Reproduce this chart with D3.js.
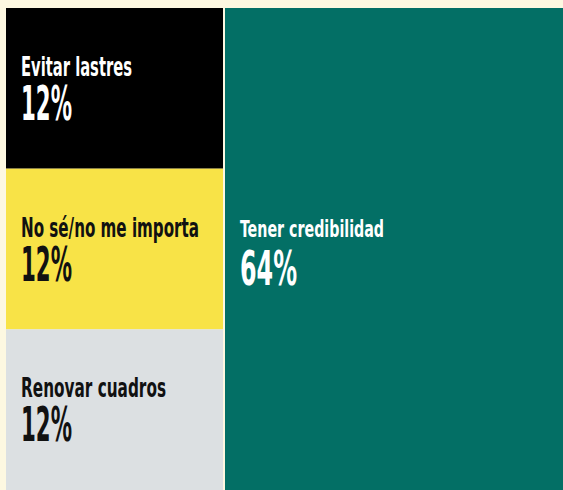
<!DOCTYPE html>
<html><head><meta charset="utf-8">
<script src="https://cdn.jsdelivr.net/npm/d3@7"></script>
<style>html,body{margin:0;padding:0;background:#fdf8e1;overflow:hidden}svg{display:block}</style>
</head><body>
<script>
const categories = ["Evitar lastres", "No sé/no me importa", "Renovar cuadros", "Tener credibilidad"];
const values = [12, 12, 12, 64];
const valueLabels = ["12%", "12%", "12%", "64%"];
const fills = ["#000000", "#f8e347", "#dce0e2", "#036f65"];
const textColors = ["#ffffff", "#111111", "#111111", "#ffffff"];

const W = 563, H = 490;
const labelWidths = [111, 178, 145, 144];
const pctWidths = [51, 51, 51, 57];

const svg = d3.select("body").append("svg").attr("width", W).attr("height", H);
svg.append("rect").attr("width", W).attr("height", H).attr("fill", "#fdf8e1");

// left column stacks the three small categories; right cell is the big one
const leftVals = values.slice(0, 3);
const cum = d3.cumsum(leftVals);
const y = d3.scaleLinear().domain([0, d3.sum(leftVals)]).range([8, H]);
const cells = categories.map((c, i) => {
  if (i < 3) {
    return {c, v: values[i], x0: 6, x1: 223, y0: y(cum[i] - leftVals[i]), y1: y(cum[i]), i};
  }
  return {c, v: values[i], x0: 225, x1: W, y0: 8, y1: H, i};
});

const g = svg.selectAll("g.cell").data(cells).join("g").attr("class", "cell");
g.append("rect")
  .attr("x", d => d.x0).attr("y", d => d.y0)
  .attr("width", d => d.x1 - d.x0).attr("height", d => d.y1 - d.y0)
  .attr("fill", d => fills[d.i]);

const font = "'Liberation Sans Narrow','DejaVu Sans Condensed','Roboto',sans-serif";
g.append("text")
  .attr("x", d => d.x0 + 15)
  .attr("y", d => d.i < 3 ? d.y0 + 68 : (d.y0 + d.y1) / 2 - 12)
  .attr("fill", d => textColors[d.i])
  .style("font-family", font).style("font-weight", "700")
  .style("font-size", d => d.i < 3 ? "26px" : "23px")
  .attr("textLength", d => labelWidths[d.i]).attr("lengthAdjust", "spacingAndGlyphs")
  .text(d => d.c);
g.append("text")
  .attr("x", d => d.x0 + 15)
  .attr("y", d => d.i < 3 ? d.y0 + 112 : (d.y0 + d.y1) / 2 + 36)
  .attr("fill", d => textColors[d.i])
  .style("font-family", font).style("font-weight", "700").style("font-size", "48px")
  .attr("textLength", d => pctWidths[d.i]).attr("lengthAdjust", "spacingAndGlyphs")
  .text(d => valueLabels[d.i]);
</script>
</body></html>
